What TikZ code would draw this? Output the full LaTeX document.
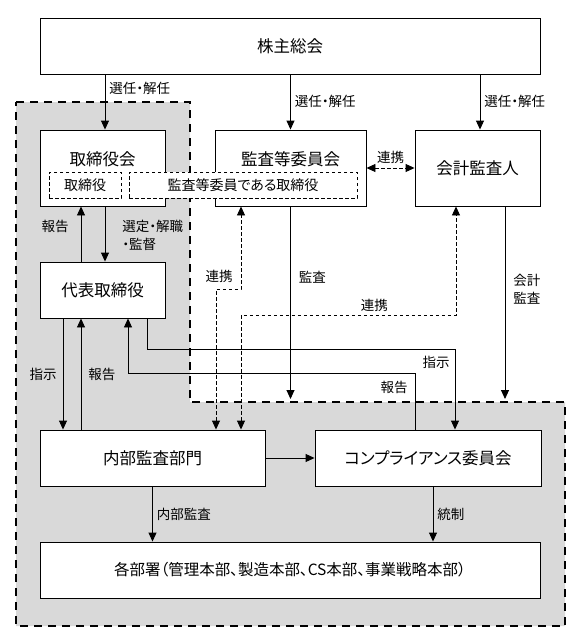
\documentclass[tikz,border=0pt]{standalone}
\usepackage{fontspec}
\setmainfont{Noto Sans CJK JP}[RawFeature={+palt}]
\usetikzlibrary{arrows.meta}

\newcommand{\boxfont}{\fontsize{16.5pt}{19pt}\selectfont}
\newcommand{\widefont}{\fontsize{15.5pt}{18pt}\selectfont}
\newcommand{\memberfont}{\fontsize{14pt}{16pt}\selectfont}
\newcommand{\labelfont}{\fontsize{13.5pt}{18pt}\selectfont}

\begin{document}
\begin{tikzpicture}[
  x=1pt, y=-1pt,
  font=\labelfont,
  orgBox/.style={draw,line width=0.9pt,fill=white,font=\boxfont,inner sep=0pt},
  boxTitle/.style={font=\boxfont,inner sep=0pt},
  memberBox/.style={draw,line width=0.9pt,dash pattern=on 3.5pt off 2.5pt,fill=white,
minimum height=26pt,font=\memberfont,inner sep=0pt},
  groupArea/.style={draw,fill=black!15,line width=2.6pt,dash pattern=on 8pt off 6pt},
  flowLine/.style={->,>={Triangle[width=8pt,length=9pt]},line width=0.9pt},
  liaisonLine/.style={<->,>={Triangle[width=8pt,length=9pt]},line width=0.9pt,
dash pattern=on 3.5pt off 2.5pt},
  edgeLabel/.style={font=\labelfont,inner sep=3pt,align=left}]

  \useasboundingbox (0,0) rectangle (584,643);

  % company area
  \draw [groupArea] (16,102) -- (190,102) -- (190,402) -- (565,402) -- (565,626) -- (16,626) -- cycle;

  % organs
  \node[orgBox,minimum width=500pt,minimum height=56pt] (gms) at (290,46) {株主総会};
  \node[orgBox,minimum width=125pt,minimum height=76pt] (board) at (102.5,168) {};
  \node[boxTitle] (boardTitle) at (102.5,159) {取締役会};
  \node[orgBox,minimum width=151pt,minimum height=76pt] (aud) at (290.5,168) {};
  \node[boxTitle] (audTitle) at (290.5,159) {監査等委員会};
  \node[orgBox,minimum width=125pt,minimum height=76pt] (acct) at (477.5,168) {会計監査人};
  \node[memberBox,minimum width=72pt] (director) at (85,185) {取締役};
  \node[memberBox,minimum width=228pt] (auditDirector) at (243,185) {監査等委員である取締役};
  \node[orgBox,minimum width=125pt,minimum height=56pt] (rep) at (102.5,290) {代表取締役};
  \node[orgBox,minimum width=225pt,minimum height=56pt] (audit) at (152.5,458) {内部監査部門};
  \node[orgBox,minimum width=226pt,minimum height=56pt] (comp) at (428,458) {コンプライアンス委員会};
  \node[orgBox,minimum width=500pt,minimum height=56pt,font=\widefont] (depts) at (290,570) {各部署（管理本部、製造本部、CS本部、事業戦略本部）};

  \coordinate (audEnd) at (290.5,399);
  \coordinate (acctEnd) at (505,399);

  % shareholders to organs
  \draw [flowLine] ([xshift=-185pt]gms.south) -- node[edgeLabel,pos=0.25,right,xshift=1pt] {選任・解任} ([xshift=2.5pt]board.north);
  \draw [flowLine] (aud.north |- gms.south) -- node[edgeLabel,pos=0.48,right,xshift=1pt] {選任・解任} (aud.north);
  \draw [flowLine] ([xshift=190pt]gms.south) -- node[edgeLabel,pos=0.48,right,xshift=1pt] {選任・解任} ([xshift=2.5pt]acct.north);

  % board and representative
  \draw [flowLine] ([xshift=-21.5pt]rep.north) -- node[edgeLabel,pos=0.64,left,xshift=-9pt] {報告} ([xshift=-21.5pt]board.south);
  \draw [flowLine] ([xshift=2.5pt]board.south) -- node[edgeLabel,pos=0.52,right,xshift=14pt] {選定・解職\\・監督} ([xshift=2.5pt]rep.north);

  % representative to internal audit
  \draw [flowLine] ([xshift=-39.5pt]rep.south) -- node[edgeLabel,midway,left,xshift=-3pt] {指示} ([xshift=-89.5pt]audit.north);
  \draw [flowLine] ([xshift=-71.5pt]audit.north) -- node[edgeLabel,midway,right,xshift=4pt] {報告} ([xshift=-21.5pt]rep.south);

  % representative and compliance
  \draw [flowLine] ([xshift=44.5pt]rep.south) -- ++(0,31) -| node[edgeLabel,pos=0.58,left,xshift=-2pt] {指示} ([xshift=27pt]comp.north);
  \draw [flowLine] ([xshift=-13pt]comp.north) -- node[edgeLabel,pos=0.75,left,xshift=-4pt] {報告} ++(0,-56) -| ([xshift=25.5pt]rep.south);

  % audits
  \draw [flowLine] (aud.south) -- node[edgeLabel,pos=0.37,right,xshift=5pt] {監査} (audEnd);
  \draw [flowLine] ([xshift=27.5pt]acct.south) -- node[edgeLabel,pos=0.43,right,xshift=5pt] {会計\\監査} (acctEnd);

  % liaison
  \draw [liaisonLine] (aud.east) -- node[edgeLabel,above,yshift=1pt] {連携} (acct.west);
  \draw [liaisonLine] ([xshift=63.5pt]audit.north) -- ++(0,-140) -| node[edgeLabel,pos=0.58,left,xshift=-5pt] {連携} ([xshift=-49.5pt]aud.south);
  \draw [liaisonLine] ([xshift=88.5pt]audit.north) -- ++(0,-114) -| node[edgeLabel,pos=0.31,above] {連携} ([xshift=-21.5pt]acct.south);

  % internal audit to compliance
  \draw [flowLine] (audit.east) -- (comp.west);

  % to departments
  \draw [flowLine] (audit.south) -- node[edgeLabel,midway,right,xshift=1pt] {内部監査} (audit.south |- depts.north);
  \draw [flowLine] ([xshift=5pt]comp.south) -- node[edgeLabel,midway,right,xshift=1pt] {統制} ([xshift=143pt]depts.north);
\end{tikzpicture}
\end{document}
